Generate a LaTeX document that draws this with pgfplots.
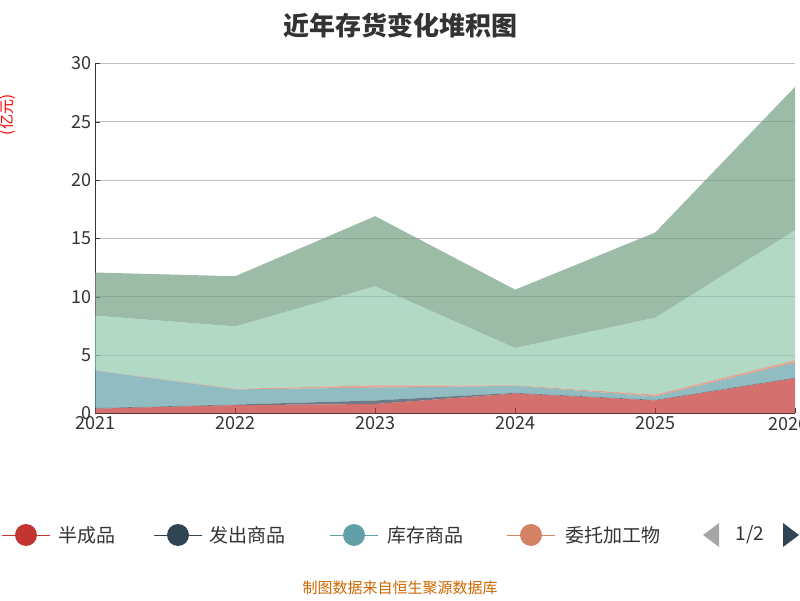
\documentclass[border=0pt]{standalone}
\usepackage{pgfplots}
\pgfplotsset{compat=1.18}
\usepackage{fontspec}
\setmainfont{Noto Sans CJK SC}
\definecolor{c1}{HTML}{C23531}
\definecolor{c2}{HTML}{2F4554}
\definecolor{c3}{HTML}{61A0A8}
\definecolor{c4}{HTML}{D48265}
\definecolor{c5}{HTML}{91C7AE}
\definecolor{c6}{HTML}{749F83}
\begin{document}
\begin{tikzpicture}[x=1pt,y=1pt]
\useasboundingbox (0,0) rectangle (800,600);
\begin{axis}[at={(68,160)},anchor=south west,width=700pt,height=350pt,scale only axis,
  xmin=0,xmax=5,ymin=0,ymax=30,xtick={0,...,5},xticklabels={2021,2022,2023,2024,2025,2026H},
  ytick={0,5,...,30},ymajorgrids,grid style={gray!50},
  axis x line*=bottom, axis y line*=left, axis line style={black!80},
  tick style={black!80}, major tick length=5pt,
  tick label style={font=\fontsize{18}{18}\selectfont, text=black!80},
  /pgf/number format/assume math mode=true,
  stack plots=y, clip=false]
\addplot[draw=none,fill=c1,fill opacity=0.7] coordinates {(0,0.4)(1,0.7)(2,0.8)(3,1.7)(4,1.1)(5,3.0)} \closedcycle;
\addplot[draw=none,fill=c2,fill opacity=0.7] coordinates {(0,0.05)(1,0.05)(2,0.3)(3,0.05)(4,0.05)(5,0.05)} \closedcycle;
\addplot[draw=none,fill=c3,fill opacity=0.7] coordinates {(0,3.2)(1,1.3)(2,1.1)(3,0.6)(4,0.3)(5,1.3)} \closedcycle;
\addplot[draw=none,fill=c4,fill opacity=0.7] coordinates {(0,0.02)(1,0.05)(2,0.2)(3,0.05)(4,0.15)(5,0.2)} \closedcycle;
\addplot[draw=none,fill=c5,fill opacity=0.7] coordinates {(0,4.7)(1,5.35)(2,8.5)(3,3.2)(4,6.6)(5,11.15)} \closedcycle;
\addplot[draw=none,fill=c6,fill opacity=0.7] coordinates {(0,3.7)(1,4.3)(2,6.0)(3,5.0)(4,7.3)(5,12.3)} \closedcycle;
\end{axis}
\node[font=\fontsize{26}{26}\selectfont\bfseries,text=black!80] at (400,574) {近年存货变化堆积图};
\node[rotate=90,text=red,font=\fontsize{15}{15}\selectfont] at (8,485) {(亿元)};
\begin{scope}[font=\fontsize{19}{19}\selectfont, text=black!80]
\draw[c1,thick] (2,65)--(50,65); \fill[c1] (26,65) circle (11);
\node[anchor=west] at (55,65) {半成品};
\draw[c2,thick] (154,65)--(202,65); \fill[c2] (178,65) circle (11);
\node[anchor=west] at (206,65) {发出商品};
\draw[c3,thick] (330,65)--(378,65); \fill[c3] (354,65) circle (11);
\node[anchor=west] at (384,65) {库存商品};
\draw[c4,thick] (507,65)--(555,65); \fill[c4] (531,65) circle (11);
\begin{scope}\clip (558,48) rectangle (684,82);
\node[anchor=west] at (562,65) {委托加工物};\end{scope}
\fill[gray!70] (703,65)--(719,77)--(719,53)--cycle;
\node at (750,65) {1/2};
\fill[c2] (799,65)--(783,77)--(783,53)--cycle;
\end{scope}
\node[text=orange!80!black,font=\fontsize{15}{15}\selectfont] at (400,12) {制图数据来自恒生聚源数据库};
\end{tikzpicture}
\end{document}
